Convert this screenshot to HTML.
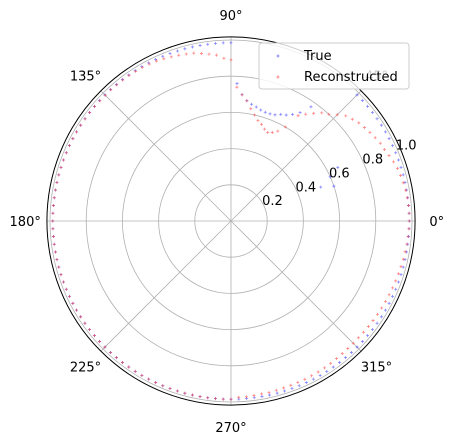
<!DOCTYPE html>
<html><head><meta charset="utf-8"><style>
body{margin:0;background:#fff;}
svg{display:block;font-family:"DejaVu Sans","Liberation Sans",sans-serif;}
</style></head><body>
<svg id="chart" width="453" height="442" viewBox="0 0 453 442">
<g id="grid"></g>
<g id="marks"></g>
<g id="labels"></g>
<g id="legend">
<rect x="259" y="43" width="150" height="46" rx="3" fill="#fff" fill-opacity="0.8" stroke="#ccc" stroke-width="1"/>
<g>
<path d="M276.5 56h3M278 54.5v3" stroke="#6b6bff" stroke-width="0.8"/>
<text x="304" y="60" font-size="13" fill="#000">True</text></g>
<g>
<path d="M276.5 77h3M278 75.5v3" stroke="#ff6b6b" stroke-width="0.8"/>
<text x="304" y="81" font-size="13" fill="#000">Reconstructed</text></g>
</g>
</svg>
<script>
const rTicks=[0.2,0.4,0.6,0.8,1.0];
const thetaTicks=[0,45,90,135,180,225,270,315];
const trueTheta=[
0,2.5,5,7.5,10,12.5,15,17.5,20,22.5,
25,27.5,30,32.5,35,37.5,40,42.5,45,55,
57.5,60,62.5,65,67.5,70,72.5,75,77.5,80,
82.5,85,87.5,90,92.5,95,97.5,100,102.5,105,
107.5,110,112.5,115,117.5,120,122.5,125,127.5,130,
132.5,135,137.5,140,142.5,145,147.5,150,152.5,155,
157.5,160,162.5,165,167.5,170,172.5,175,177.5,180,
182.5,185,187.5,190,192.5,195,197.5,200,202.5,205,
207.5,210,212.5,215,217.5,220,222.5,225,227.5,230,
232.5,235,237.5,240,242.5,245,247.5,250,252.5,255,
257.5,260,262.5,265,267.5,270,272.5,275,277.5,280,
282.5,285,287.5,290,292.5,295,297.5,300,302.5,305,
307.5,310,312.5,315,317.5,320,322.5,325,327.5,330,
332.5,335,337.5,340,342.5,345,347.5,350,352.5,355,
357.5,18.7,20.7,24,26.6];
const trueR=[
0.985,0.985,0.985,0.985,0.985,0.985,0.985,0.985,0.985,0.985,
0.985,0.985,0.985,0.985,0.985,0.985,0.985,0.985,0.985,0.77,
0.71,0.68,0.66,0.65,0.635,0.63,0.63,0.635,0.645,0.655,
0.67,0.7,0.76,0.985,0.985,0.985,0.985,0.985,0.985,0.985,
0.985,0.985,0.985,0.985,0.985,0.985,0.985,0.985,0.985,0.985,
0.985,0.985,0.985,0.985,0.985,0.985,0.985,0.985,0.985,0.985,
0.985,0.985,0.985,0.985,0.985,0.985,0.985,0.985,0.985,0.985,
0.985,0.985,0.985,0.985,0.985,0.985,0.985,0.985,0.985,0.985,
0.985,0.985,0.985,0.985,0.985,0.985,0.985,0.985,0.985,0.985,
0.985,0.985,0.985,0.985,0.985,0.985,0.985,0.985,0.985,0.985,
0.985,0.985,0.985,0.985,0.985,0.985,0.985,0.985,0.985,0.985,
0.985,0.985,0.985,0.985,0.985,0.985,0.985,0.985,0.985,0.985,
0.985,0.985,0.985,0.985,0.985,0.985,0.985,0.985,0.985,0.985,
0.985,0.985,0.985,0.985,0.985,0.985,0.985,0.985,0.985,0.985,
0.985,0.6,0.53,0.6,0.66];
const recTheta=[
0,2.5,5,7.5,10,12.5,15,17.5,20,22.5,
25,27.5,30,32.5,35,37.5,40,42.5,45,47.5,
50,52.5,55,57.5,60,62.5,65,67.5,70,72.5,
75,77.5,80,82.5,85,87.5,90,92.5,95,97.5,
100,102.5,105,107.5,110,112.5,115,117.5,120,122.5,
125,127.5,130,132.5,135,137.5,140,142.5,145,147.5,
150,152.5,155,157.5,160,162.5,165,167.5,170,172.5,
175,177.5,180,182.5,185,187.5,190,192.5,195,197.5,
200,202.5,205,207.5,210,212.5,215,217.5,220,222.5,
225,227.5,230,232.5,235,237.5,240,242.5,245,247.5,
250,252.5,255,257.5,260,262.5,265,267.5,270,272.5,
275,277.5,280,282.5,285,287.5,290,292.5,295,297.5,
300,302.5,305,307.5,310,312.5,315,317.5,320,322.5,
325,327.5,330,332.5,335,337.5,340,342.5,345,347.5,
350,352.5,355,357.5];
const recR=[
0.985,0.985,0.985,0.982,0.98,0.975,0.97,0.965,0.955,0.945,
0.935,0.93,0.92,0.91,0.9,0.89,0.875,0.86,0.83,0.8,
0.78,0.75,0.72,0.69,0.6,0.56,0.54,0.53,0.54,0.56,
0.575,0.6,0.63,0.67,0.7,0.74,0.89,0.9,0.92,0.93,
0.94,0.95,0.955,0.96,0.965,0.97,0.975,0.978,0.98,0.98,
0.982,0.982,0.982,0.983,0.983,0.983,0.984,0.984,0.984,0.985,
0.985,0.985,0.985,0.985,0.985,0.985,0.985,0.985,0.985,0.985,
0.985,0.985,0.985,0.985,0.985,0.985,0.985,0.985,0.985,0.985,
0.985,0.985,0.985,0.985,0.985,0.985,0.985,0.985,0.985,0.985,
0.985,0.985,0.985,0.985,0.985,0.985,0.985,0.985,0.985,0.985,
0.985,0.985,0.985,0.985,0.985,0.985,0.985,0.985,0.985,0.975,
0.975,0.972,0.97,0.97,0.968,0.967,0.966,0.965,0.965,0.964,
0.963,0.962,0.96,0.958,0.956,0.955,0.955,0.955,0.956,0.957,
0.958,0.96,0.961,0.962,0.964,0.966,0.968,0.97,0.972,0.975,
0.977,0.98,0.982,0.984];
const NS='http://www.w3.org/2000/svg';
const cx=231,cy=221,scale=181,rMax=1.017;
function px(t,r){const a=t*Math.PI/180;return [cx+r*scale*Math.cos(a),cy-r*scale*Math.sin(a)];}
function mk(tag,attrs,parent){const e=document.createElementNS(NS,tag);for(const k in attrs)e.setAttribute(k,attrs[k]);parent.appendChild(e);return e;}
const grid=document.getElementById('grid'),marks=document.getElementById('marks'),labels=document.getElementById('labels');
rTicks.forEach(v=>{
  const c=mk('circle',{cx:cx,cy:cy,r:v*scale,fill:'none',stroke:'#b0b0b0','stroke-width':0.8},grid);
  
  
  const p=px(22.5,v);
  const t=mk('text',{x:p[0]+8,y:p[1]-2,'font-size':13,'text-anchor':'middle'},labels);
  t.textContent=v.toFixed(1);
  
  
});
thetaTicks.forEach(d=>{
  const p=px(d,rMax);
  const l=mk('line',{x1:cx,y1:cy,x2:p[0],y2:p[1],stroke:'#b0b0b0','stroke-width':0.8},grid);
  
  
  const q=px(d,rMax+0.12);
  const t=mk('text',{x:q[0],y:q[1]+5,'font-size':13,'text-anchor':'middle'},labels);
  t.textContent=d+'°';
  
  
});
const outer=mk('circle',{cx:cx,cy:cy,r:rMax*scale,fill:'none',stroke:'#000','stroke-width':1},grid);


function series(th,rr,col,name){
  const n=Math.min(th.length,rr.length);
  for(let i=0;i<n;i++){
    const p=px(th[i],rr[i]);
    const m=mk('path',{d:`M${p[0]-1.5} ${p[1]}h3M${p[0]} ${p[1]-1.5}v3`,stroke:col,'stroke-width':0.8,'stroke-opacity':0.6},marks);
    
    
  }
}
series(trueTheta,trueR,'#3333ff','true-point');
series(recTheta,recR,'#ff3333','reconstructed-point');
labels.parentNode.appendChild(document.getElementById('legend'));
</script>
</body></html>
